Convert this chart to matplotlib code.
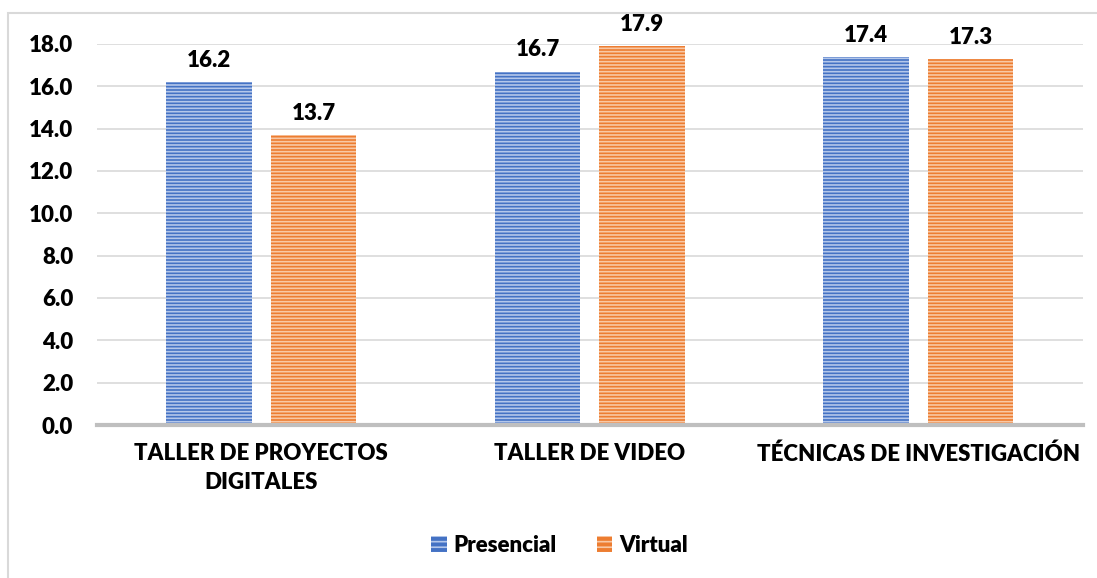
import matplotlib
matplotlib.use("Agg")
import matplotlib.pyplot as plt
from matplotlib.patches import Rectangle, Patch
import numpy as np

categories = ["TALLER DE PROYECTOS\nDIGITALES", "TALLER DE VIDEO", "TÉCNICAS DE INVESTIGACIÓN"]
presencial = [16.2, 16.7, 17.4]
virtual = [13.7, 17.9, 17.3]
series_names = ["Presencial", "Virtual"]
yticks = [0, 2, 4, 6, 8, 10, 12, 14, 16, 18]

plt.rcParams['font.family'] = ['Lato', 'DejaVu Sans']
plt.rcParams['hatch.linewidth'] = 1.2

FS = 16
FW = 'heavy'

fig = plt.figure(figsize=(10.97, 5.78), dpi=100)
fig.patches.append(Rectangle((0.0075, -0.01), 1.0, 0.987, transform=fig.transFigure,
                             fill=False, edgecolor='#D9D9D9', linewidth=1.5))
ax = fig.add_axes([0.0884, 0.2647, 0.8986, 0.6592])

x = np.arange(len(categories))
w = 0.26
off = 0.159
b1 = ax.bar(x - off, presencial, w, facecolor='#4472C4', edgecolor='#B4C7EA',
            hatch='-----', linewidth=0, zorder=3, label=series_names[0])
b2 = ax.bar(x + off, virtual, w, facecolor='#ED7D31', edgecolor='#F8C8A5',
            hatch='-----', linewidth=0, zorder=3, label=series_names[1])

for bars, vals in ((b1, presencial), (b2, virtual)):
    for r, v in zip(bars, vals):
        ax.annotate(f"{v:.1f}", (r.get_x() + r.get_width() / 2, v), xytext=(0, 8),
                    textcoords='offset points', ha='center', va='bottom',
                    fontsize=FS, fontweight=FW, annotation_clip=False)

ax.set_xlim(-0.5, 2.5)
ax.set_ylim(0, 18)
ax.set_yticks(yticks)
ax.set_yticklabels([f"{t:.1f}" for t in yticks], fontsize=FS, fontweight=FW)
ax.set_xticks(x)
ax.set_xticklabels(categories, fontsize=FS, fontweight=FW, linespacing=1.45)
ax.tick_params(axis='both', length=0)
ax.tick_params(axis='y', pad=17)
ax.tick_params(axis='x', pad=13)
ax.grid(axis='y', color='#D9D9D9', linewidth=1.2, zorder=0)
for s in ['top', 'right', 'left']:
    ax.spines[s].set_visible(False)
ax.spines['bottom'].set_color('#BFBFBF')
ax.spines['bottom'].set_linewidth(3)
ax.spines['bottom'].set_zorder(4)

handles = [Patch(facecolor='#4472C4', edgecolor='#B4C7EA', hatch='---', linewidth=0),
           Patch(facecolor='#ED7D31', edgecolor='#F8C8A5', hatch='---', linewidth=0)]
fig.legend(handles, series_names, loc='center', bbox_to_anchor=(0.51, 0.057), ncol=2,
           frameon=False, prop={'size': FS, 'weight': FW},
           handlelength=0.7, handleheight=0.7, handletextpad=0.3, columnspacing=1.8)

fig.savefig("out.png", dpi=100)
